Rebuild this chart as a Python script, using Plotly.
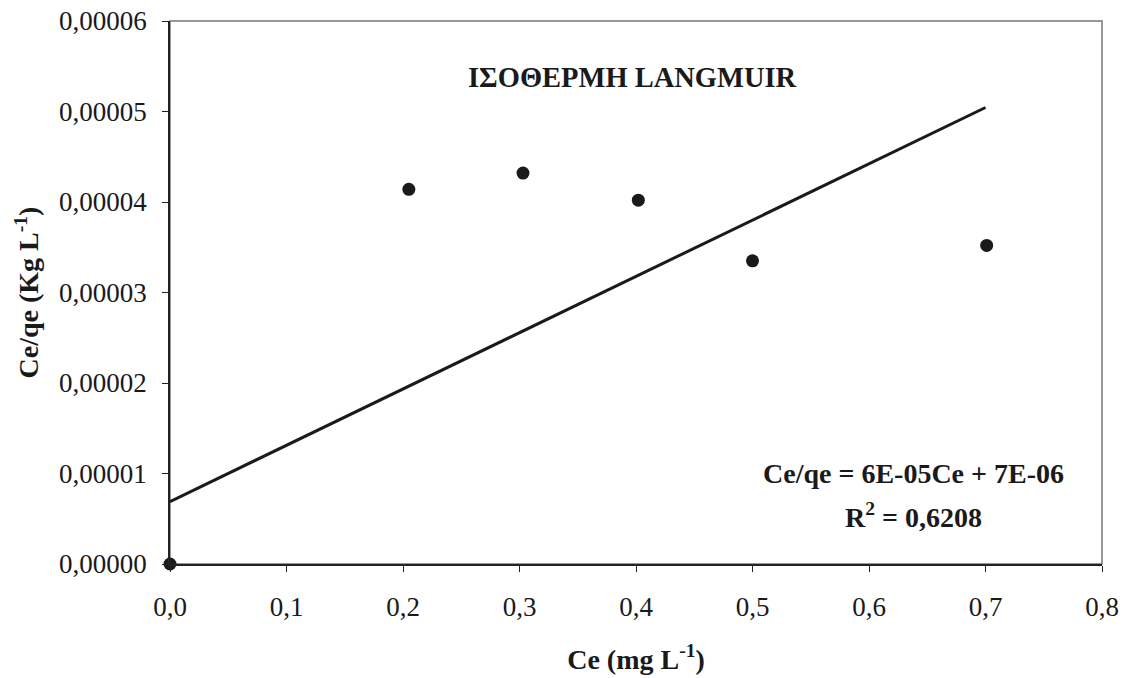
import plotly.graph_objects as go

# Data
ce = [0.0, 0.205, 0.303, 0.402, 0.500, 0.701]
ce_qe = [0.0, 0.0000414, 0.0000432, 0.0000402, 0.0000335, 0.0000352]

trend_slope = 0.0000622
trend_intercept = 0.0000069
trend_x = [0.0, 0.7]
trend_y = [trend_slope * x + trend_intercept for x in trend_x]

x_ticks = [0.0, 0.1, 0.2, 0.3, 0.4, 0.5, 0.6, 0.7, 0.8]
y_ticks = [0.0, 0.00001, 0.00002, 0.00003, 0.00004, 0.00005, 0.00006]

font_family = "Liberation Serif, Times New Roman, serif"

L, R, T, B = 170, 1102, 21, 564
W, H = R - L, B - T

fig = go.Figure()

fig.add_trace(go.Scatter(
    x=trend_x, y=trend_y, mode="lines",
    line=dict(color="#1a1a1a", width=3),
    showlegend=False, hoverinfo="skip",
))

fig.add_trace(go.Scatter(
    x=ce, y=ce_qe, mode="markers",
    marker=dict(color="#1a1a1a", size=13),
    showlegend=False, cliponaxis=False,
))

fig.update_layout(
    width=1128, height=678,
    margin=dict(l=L, r=1128 - R, t=T, b=678 - B),
    paper_bgcolor="white", plot_bgcolor="white",
    separators=", ",
    font=dict(family=font_family, size=27, color="#1a1a1a"),
    xaxis=dict(
        range=[0, 0.8], tickvals=x_ticks, tickformat=".1f",
        showgrid=False, zeroline=False, automargin=False,
        showline=True, linecolor="#222222", linewidth=1.5,
        ticks="outside", ticklen=6, tickcolor="#222222",
        tickfont=dict(size=27), ticklabelstandoff=12,
        title=dict(text="<b>Ce (mg L<sup>-1</sup>)</b>", font=dict(size=28), standoff=28),
    ),
    yaxis=dict(
        range=[0, 0.00006], tickvals=y_ticks, tickformat=".5f",
        showgrid=False, zeroline=False, automargin=False,
        showline=True, linecolor="#222222", linewidth=1.5,
        ticks="outside", ticklen=6, tickcolor="#222222",
        tickfont=dict(size=27), ticklabelstandoff=10,
        title=dict(text="<b>Ce/qe (Kg L<sup>-1</sup>)</b>", font=dict(size=28), standoff=12),
    ),
    shapes=[
        dict(type="rect", xref="paper", yref="paper", x0=0, y0=0, x1=1, y1=1,
             line=dict(color="#777777", width=1.5), layer="below"),
    ],
    annotations=[
        dict(text="<b>ΙΣΟΘΕΡΜΗ LANGMUIR</b>", xref="paper", yref="paper",
             x=(632 - L) / W, y=(B - 78) / H,
             showarrow=False, font=dict(size=28.5), xanchor="center", yanchor="middle"),
        dict(text="<b>Ce/qe = 6E-05Ce + 7E-06</b>", xref="paper", yref="paper",
             x=(913 - L) / W, y=(B - 473) / H,
             showarrow=False, font=dict(size=28), xanchor="center", yanchor="middle"),
        dict(text="<b>R<sup>2</sup> = 0,6208</b>", xref="paper", yref="paper",
             x=(913 - L) / W, y=(B - 515) / H,
             showarrow=False, font=dict(size=28), xanchor="center", yanchor="middle"),
    ],
)

fig.write_html("out.html")
